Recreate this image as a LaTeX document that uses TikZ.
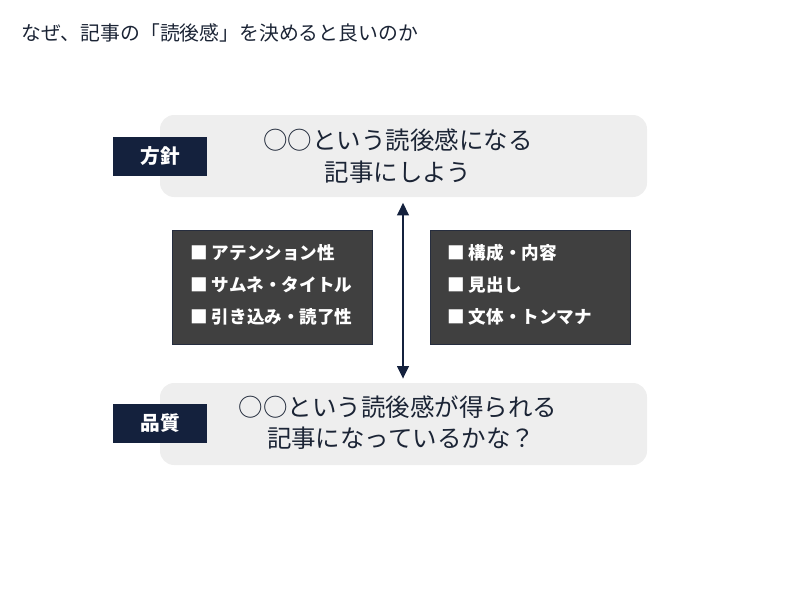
\documentclass[tikz,border=0pt]{standalone}
\usepackage{fontspec}
\setmainfont{Noto Sans CJK JP}
\usetikzlibrary{arrows.meta}
\definecolor{navy}{HTML}{14213D}
\definecolor{inktext}{HTML}{1B2435}
\definecolor{panelgray}{HTML}{EEEEEE}
\definecolor{darkbox}{HTML}{404040}
\tikzset{
    panel/.style={rounded corners=10, fill=panelgray, draw=none},
    tagbox/.style={fill=navy, draw=none, text=white, font=\fontsize{14}{16}\selectfont\bfseries,
        minimum width=94*0.025cm, minimum height=39*0.025cm, inner sep=0pt},
    mainline/.style={text=inktext, font=\fontsize{17.4}{22}\selectfont, align=center, inner sep=0pt},
    itembox/.style={fill=darkbox, draw=navy!60!darkbox, line width=0.6pt,
        minimum width=200*0.025cm, minimum height=114*0.025cm, inner sep=0pt},
    item/.style={text=white, font=\fontsize{12.5}{14}\selectfont\bfseries, anchor=west, inner sep=0pt}
}
\begin{document}
\begin{tikzpicture}[x=0.025cm, y=-0.025cm]
	\useasboundingbox (0,0) rectangle (800,599);
	\node (title) [anchor=west, text=inktext, font=\fontsize{14.1}{16}\selectfont, inner sep=0pt]
		at (21, 33) {なぜ、記事の「読後感」を決めると良いのか};
	
	% top panel
	\fill[panel] (160,115) rectangle (647,197);
	\coordinate (topmid) at (403, 197);
	\node (policy) [tagbox] at (160, 156.5) {方針};
	\node (goal1) [mainline] at (398, 140) {○○という読後感になる};
	\node (goal2) [mainline] at (398, 172) {記事にしよう};
	
	% bottom panel
	\fill[panel] (160,383) rectangle (647,465);
	\coordinate (botmid) at (403, 383);
	\node (quality) [tagbox] at (160, 423.5) {品質};
	\node (check1) [mainline] at (398, 407) {○○という読後感が得られる};
	\node (check2) [mainline] at (401, 438) {記事になっているかな？};
	
	% item boxes
	\node (left) [itembox] at (272, 287) {};
	\node (l1) [item] at (190, 253) {■ アテンション性};
	\node (l2) [item] at (190, 285) {■ サムネ・タイトル};
	\node (l3) [item] at (190, 317) {■ 引き込み・読了性};
	\node (right) [itembox] at (530, 287) {};
	\node (r1) [item] at (447, 253) {■ 構成・内容};
	\node (r2) [item] at (447, 285) {■ 見出し};
	\node (r3) [item] at (447, 317) {■ 文体・トンマナ};
	
	\draw[navy, line width=2pt, {Triangle[width=8pt,length=9pt]}-{Triangle[width=8pt,length=9pt]}]
		([yshift=-4] topmid) -- ([yshift=3] botmid);
\end{tikzpicture}
\end{document}
